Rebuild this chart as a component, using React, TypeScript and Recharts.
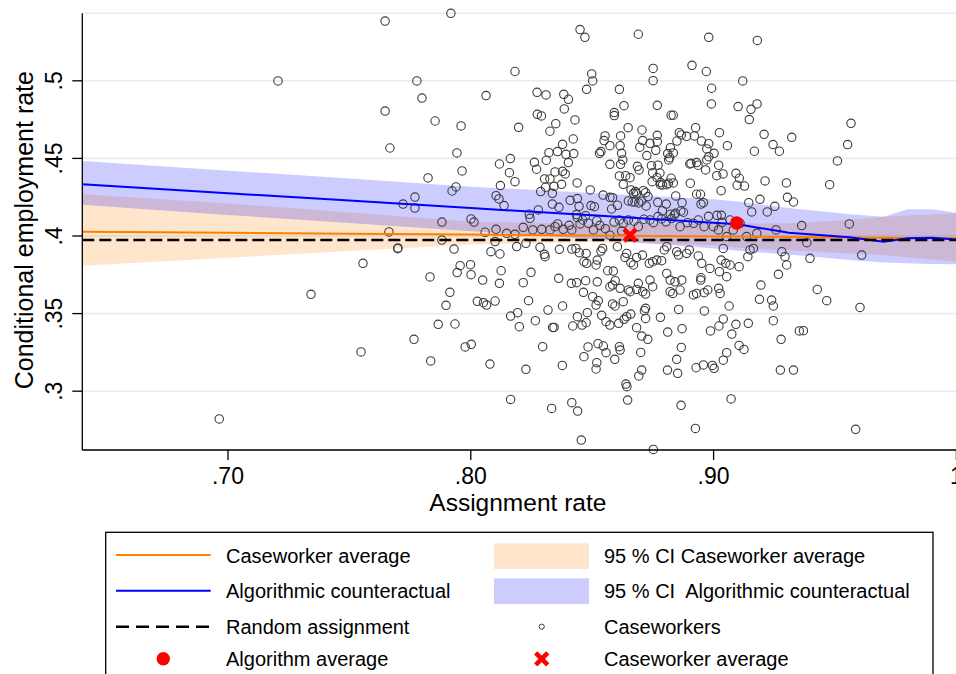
import React from "react";
import { ComposedChart, Area, Line, Scatter, XAxis, YAxis, CartesianGrid } from "recharts";

const FONT = "'Liberation Sans', Arial, Helvetica, sans-serif";

// Axis ticks
const xTicks = [0.7, 0.8, 0.9, 1.0];
const xTickLabels = [".70", ".80", ".90", "1"];
const yTicks = [0.3, 0.35, 0.4, 0.45, 0.5];
const yTickLabels = [".3", ".35", ".4", ".45", ".5"];
const xDomain = [0.64, 1.0];
const yDomain = [0.2621, 0.5435];

// Fitted curves (assignment rate grid)
const curveX = [0.64, 0.7, 0.75, 0.8, 0.85, 0.9, 0.91, 0.931, 0.956, 0.97, 0.98, 0.99, 1.0];
const caseworkerAvgLine = [0.4028, 0.4021, 0.4015, 0.4009, 0.4003, 0.3997, 0.3996, 0.3993, 0.399, 0.3989, 0.3987, 0.3986, 0.3985];
const algorithmicLine = [0.4333, 0.4276, 0.4228, 0.418, 0.4133, 0.4085, 0.4075, 0.4021, 0.3992, 0.3963, 0.3985, 0.3989, 0.3977];
const randomAssignment = [0.3975, 0.3975, 0.3975, 0.3975, 0.3975, 0.3975, 0.3975, 0.3975, 0.3975, 0.3975, 0.3975, 0.3975, 0.3975];
const caseworkerCILow = [0.3809, 0.386, 0.3903, 0.3945, 0.3962, 0.394, 0.3925, 0.3908, 0.3888, 0.3878, 0.3862, 0.3848, 0.3834];
const caseworkerCIHigh = [0.4269, 0.421, 0.4152, 0.4092, 0.4075, 0.4078, 0.408, 0.4082, 0.4103, 0.4124, 0.4132, 0.414, 0.4146];
const algorithmicCILow = [0.4201, 0.4136, 0.4083, 0.403, 0.398, 0.392, 0.3905, 0.388, 0.3845, 0.383, 0.3825, 0.382, 0.3818];
const algorithmicCIHigh = [0.4483, 0.4421, 0.437, 0.4318, 0.4277, 0.4236, 0.4222, 0.418, 0.414, 0.4124, 0.4172, 0.4172, 0.415];

// Single markers
const algorithmAverage = [{ x: 0.9095, y: 0.4084 }];
const caseworkerAverage = [{ x: 0.8656, y: 0.4006 }];

// Caseworkers: [assignment rate, conditional employment rate]
const caseworkers: [number, number][] = [
  [0.845, 0.533], [0.847, 0.528], [0.869, 0.53], [0.898, 0.528], [0.918, 0.526],
  [0.8182, 0.506], [0.8911, 0.51], [0.8751, 0.508], [0.897, 0.506], [0.8498, 0.5044], [0.8502, 0.4999], [0.8751, 0.5001], [0.912, 0.4999], [0.8992, 0.4952], [0.8477, 0.4945], [0.8612, 0.4945], [0.8063, 0.4905], [0.8273, 0.4926], [0.831, 0.4909], [0.8383, 0.4913], [0.8402, 0.4881], [0.8385, 0.4819], [0.8991, 0.4851], [0.8768, 0.4842], [0.9101, 0.4834], [0.9154, 0.4816], [0.9179, 0.4851], [0.8631, 0.484], [0.8591, 0.4795], [0.8591, 0.4776], [0.8274, 0.4784], [0.8291, 0.4774], [0.8825, 0.4778], [0.8834, 0.4778], [0.9147, 0.475], [0.9566, 0.4726], [0.8197, 0.47], [0.8429, 0.4748], [0.835, 0.4724], [0.8648, 0.4698], [0.8326, 0.4675], [0.8705, 0.4683], [0.8926, 0.4698], [0.9024, 0.4666], [0.8553, 0.4645], [0.8549, 0.4615], [0.8617, 0.4645], [0.8768, 0.4649], [0.8859, 0.4666], [0.8867, 0.4651], [0.8889, 0.4642], [0.8921, 0.4645], [0.9208, 0.4655], [0.9322, 0.4636], [0.8422, 0.4625], [0.8378, 0.4591], [0.8573, 0.4582], [0.8615, 0.4582], [0.8708, 0.4615], [0.8696, 0.4572], [0.8738, 0.4597], [0.8768, 0.4608], [0.8762, 0.4552], [0.8822, 0.4569], [0.8811, 0.4531], [0.8834, 0.4535], [0.8819, 0.4505], [0.8849, 0.4612], [0.895, 0.4612], [0.898, 0.4595], [0.8972, 0.4561], [0.9002, 0.4533], [0.9057, 0.4582], [0.9168, 0.4546], [0.9245, 0.4589], [0.9271, 0.4546], [0.9552, 0.4589], [0.8357, 0.4544], [0.8322, 0.4537], [0.8392, 0.4526], [0.8424, 0.4531], [0.853, 0.4533], [0.8536, 0.4544], [0.8621, 0.4533], [0.8626, 0.449], [0.8617, 0.4462], [0.8573, 0.4462], [0.8725, 0.4518], [0.8815, 0.449], [0.893, 0.4473], [0.8907, 0.4468], [0.8902, 0.4464], [0.8936, 0.4456], [0.8972, 0.449], [0.898, 0.4511], [0.8967, 0.4426], [0.9021, 0.4456], [0.951, 0.4484], [0.8118, 0.4464], [0.8163, 0.4499], [0.8262, 0.4475], [0.8271, 0.443], [0.8311, 0.4488], [0.8402, 0.4473], [0.8347, 0.4413], [0.8378, 0.4417], [0.8389, 0.44], [0.8159, 0.4408], [0.8182, 0.435], [0.8122, 0.4325], [0.8304, 0.4368], [0.8326, 0.4368], [0.8343, 0.432], [0.8374, 0.4333], [0.8308, 0.4314], [0.8288, 0.4286], [0.8438, 0.4342], [0.8492, 0.4297], [0.8612, 0.4387], [0.8628, 0.4333], [0.8638, 0.4389], [0.8656, 0.4376], [0.8686, 0.4449], [0.8693, 0.4426], [0.8749, 0.4408], [0.8744, 0.4453], [0.8771, 0.4456], [0.8779, 0.4406], [0.8767, 0.4376], [0.8781, 0.4331], [0.879, 0.4329], [0.8807, 0.4331], [0.8814, 0.434], [0.8834, 0.4342], [0.8747, 0.435], [0.8782, 0.4344], [0.8825, 0.4372], [0.8844, 0.4258], [0.8904, 0.434], [0.8946, 0.4269], [0.893, 0.4269], [0.9013, 0.4389], [0.9039, 0.44], [0.9092, 0.4404], [0.9106, 0.4372], [0.9097, 0.4327], [0.9127, 0.4322], [0.9212, 0.4355], [0.93, 0.4342], [0.9478, 0.4331], [0.9031, 0.4292], [0.9145, 0.4215], [0.9191, 0.4236], [0.9221, 0.4155], [0.9252, 0.4191], [0.9304, 0.4249], [0.9329, 0.4219], [0.9157, 0.4155], [0.8104, 0.426], [0.8116, 0.4239], [0.8137, 0.4196], [0.8241, 0.414], [0.8244, 0.4114], [0.8278, 0.4168], [0.8336, 0.4275], [0.8336, 0.4206], [0.8363, 0.4185], [0.8409, 0.423], [0.8439, 0.4241], [0.8446, 0.4191], [0.8435, 0.4138], [0.8473, 0.4131], [0.8495, 0.4196], [0.8509, 0.4189], [0.8545, 0.4264], [0.8573, 0.4249], [0.8584, 0.4247], [0.858, 0.4174], [0.8604, 0.4198], [0.8649, 0.4226], [0.8665, 0.4219], [0.8676, 0.4219], [0.8692, 0.4213], [0.8722, 0.4194], [0.8703, 0.4224], [0.8683, 0.4275], [0.866, 0.4297], [0.867, 0.4275], [0.8678, 0.4286], [0.8711, 0.4292], [0.872, 0.4279], [0.873, 0.4254], [0.877, 0.4217], [0.8805, 0.4206], [0.8789, 0.4163], [0.8822, 0.414], [0.8838, 0.4136], [0.8843, 0.4146], [0.8865, 0.4161], [0.8876, 0.4153], [0.887, 0.4215], [0.8958, 0.4215], [0.8948, 0.4206], [0.8979, 0.4127], [0.9014, 0.4133], [0.9032, 0.4133], [0.9035, 0.4088], [0.9068, 0.4103], [0.9363, 0.4067], [0.9559, 0.4078],
  [0.8059, 0.4024], [0.8104, 0.4043], [0.8148, 0.4017], [0.8182, 0.4011], [0.8216, 0.4056], [0.8255, 0.4039], [0.8292, 0.4043], [0.8326, 0.4039], [0.8347, 0.406], [0.8358, 0.4078], [0.8381, 0.4043], [0.8405, 0.4069], [0.8416, 0.4039], [0.845, 0.4078], [0.8439, 0.4118], [0.8461, 0.4103], [0.8484, 0.4082], [0.8505, 0.4039], [0.8519, 0.4099], [0.8532, 0.4069], [0.8554, 0.4047], [0.8573, 0.4005], [0.859, 0.409], [0.8612, 0.4103], [0.8628, 0.4082], [0.8621, 0.4032], [0.8649, 0.4103], [0.8672, 0.4095], [0.869, 0.406], [0.8713, 0.4108], [0.8738, 0.4103], [0.8752, 0.4086], [0.8771, 0.4125], [0.8786, 0.411], [0.8804, 0.4091], [0.8827, 0.4112], [0.8862, 0.406], [0.8892, 0.4086], [0.8917, 0.4082], [0.8937, 0.4103], [0.8961, 0.406], [0.8999, 0.406], [0.902, 0.4039], [0.9054, 0.3996], [0.9081, 0.4039], [0.9109, 0.4082], [0.9136, 0.3996], [0.9178, 0.4017], [0.9257, 0.4039], [0.81, 0.3964], [0.8189, 0.3932], [0.8227, 0.3953], [0.9384, 0.3957],
  [0.8083, 0.3899], [0.812, 0.3884], [0.8049, 0.3716], [0.8125, 0.3776], [0.8118, 0.3695], [0.8052, 0.357], [0.8065, 0.3555], [0.81, 0.3581], [0.8248, 0.3766], [0.8216, 0.3699], [0.8238, 0.3583], [0.8303, 0.3882], [0.8306, 0.3867], [0.8285, 0.3927], [0.8365, 0.3914], [0.8416, 0.3916], [0.8433, 0.392], [0.8447, 0.3892], [0.8475, 0.3888], [0.8466, 0.3834], [0.8477, 0.3824], [0.8516, 0.3813], [0.8521, 0.3845], [0.8536, 0.3903], [0.8543, 0.392], [0.8564, 0.3776], [0.8587, 0.3774], [0.8604, 0.3931], [0.8635, 0.3862], [0.8642, 0.3888], [0.8659, 0.3828], [0.867, 0.3813], [0.8683, 0.3862], [0.8707, 0.3877], [0.8735, 0.3824], [0.8749, 0.3834], [0.8766, 0.3845], [0.8786, 0.3841], [0.8797, 0.391], [0.8807, 0.3931], [0.8848, 0.3899], [0.8855, 0.3877], [0.8889, 0.3888], [0.89, 0.391], [0.8937, 0.3871], [0.8951, 0.3824], [0.8985, 0.3791], [0.9024, 0.377], [0.9031, 0.3845], [0.905, 0.3824], [0.9068, 0.3813], [0.9105, 0.3802], [0.904, 0.392], [0.9141, 0.3867], [0.915, 0.391], [0.9164, 0.392], [0.9281, 0.3899], [0.9294, 0.3867], [0.9301, 0.3813], [0.9397, 0.3856], [0.961, 0.3877], [0.8362, 0.3727], [0.8414, 0.3695], [0.8436, 0.3699], [0.8473, 0.3712], [0.8464, 0.3637], [0.8502, 0.3609], [0.8521, 0.3705], [0.8525, 0.3583], [0.8516, 0.3555], [0.8539, 0.3489], [0.8584, 0.3562], [0.8594, 0.3549], [0.8573, 0.3673], [0.8584, 0.3684], [0.8595, 0.3712], [0.8615, 0.3663], [0.8628, 0.3577], [0.8649, 0.3652], [0.8656, 0.3641], [0.8683, 0.3656], [0.8708, 0.3641], [0.872, 0.3626], [0.869, 0.3695], [0.8738, 0.3716], [0.8749, 0.3673], [0.8807, 0.3759], [0.8821, 0.3716], [0.8841, 0.3705], [0.8869, 0.3716], [0.8862, 0.3652], [0.8821, 0.3641], [0.8832, 0.363], [0.8917, 0.362], [0.893, 0.363], [0.8947, 0.3716], [0.8961, 0.3635], [0.8976, 0.3652], [0.8948, 0.3731], [0.9021, 0.3663], [0.9027, 0.363], [0.9054, 0.3738], [0.9064, 0.3549], [0.9195, 0.3684], [0.9189, 0.3592], [0.9239, 0.3587], [0.9246, 0.3549], [0.9267, 0.3753], [0.9427, 0.3656], [0.9466, 0.3583], [0.9603, 0.354], [0.8164, 0.3484], [0.8193, 0.3506], [0.82, 0.3416], [0.8266, 0.3454], [0.8318, 0.3523], [0.8378, 0.3549], [0.8337, 0.3411], [0.8343, 0.3411], [0.842, 0.342], [0.8439, 0.348], [0.8458, 0.3426], [0.8475, 0.3441], [0.848, 0.3506], [0.8557, 0.3448], [0.8573, 0.3426], [0.8609, 0.3437], [0.8631, 0.3463], [0.8642, 0.348], [0.8659, 0.3497], [0.8683, 0.3409], [0.8704, 0.3355], [0.872, 0.3534], [0.8715, 0.3519], [0.872, 0.3469], [0.8729, 0.3334], [0.8781, 0.3476], [0.8811, 0.3381], [0.8856, 0.3527], [0.887, 0.3403], [0.8962, 0.3517], [0.8987, 0.3388], [0.9022, 0.342], [0.904, 0.3465], [0.9075, 0.3368], [0.9092, 0.3431], [0.9143, 0.3437], [0.9246, 0.3454], [0.9278, 0.3334], [0.9353, 0.3388], [0.937, 0.339], [0.8296, 0.3287], [0.8483, 0.3285], [0.8524, 0.3306], [0.8546, 0.3291], [0.8557, 0.3248], [0.8612, 0.3287], [0.8615, 0.3265], [0.8593, 0.3205], [0.87, 0.325], [0.8466, 0.3222], [0.8519, 0.3184], [0.8516, 0.3143], [0.8848, 0.3205], [0.8867, 0.3282], [0.904, 0.32], [0.9054, 0.3248], [0.9105, 0.3295], [0.9125, 0.3269], [0.8079, 0.3175], [0.8227, 0.3141], [0.8377, 0.3166], [0.8704, 0.3136], [0.8692, 0.3098], [0.8639, 0.3046], [0.8643, 0.3029], [0.881, 0.3136], [0.8852, 0.3115], [0.8928, 0.3151], [0.8958, 0.3169], [0.8995, 0.3166], [0.9002, 0.3147], [0.9275, 0.3136], [0.9329, 0.3136], [0.8164, 0.2947], [0.8333, 0.2889], [0.8416, 0.2926], [0.844, 0.2872], [0.8646, 0.2943], [0.8866, 0.2909], [0.9072, 0.295], [0.8455, 0.2685], [0.8752, 0.2625], [0.8925, 0.276], [0.9585, 0.2754],
  [0.7647, 0.5385], [0.7918, 0.5435], [0.7206, 0.4999], [0.7778, 0.4999], [0.7799, 0.4889], [0.7647, 0.4805], [0.7853, 0.4741], [0.796, 0.4709], [0.7667, 0.4567], [0.7943, 0.4535], [0.7824, 0.4374], [0.7964, 0.4419], [0.7939, 0.4316], [0.7923, 0.429], [0.777, 0.4251], [0.7721, 0.4206], [0.777, 0.418], [0.8001, 0.411], [0.8013, 0.409], [0.7881, 0.409], [0.7663, 0.4026], [0.7881, 0.3974], [0.77, 0.3923], [0.7931, 0.3916], [0.6964, 0.2821], [0.7342, 0.3624], [0.7548, 0.3253], [0.7556, 0.3824], [0.7699, 0.3918], [0.7766, 0.3334], [0.7832, 0.3736], [0.7835, 0.3195], [0.7866, 0.3431], [0.7898, 0.3553], [0.7914, 0.3637], [0.7935, 0.3433], [0.7944, 0.3764], [0.7956, 0.3809], [0.7977, 0.3285], [0.7999, 0.3815], [0.8001, 0.3751], [0.8002, 0.3302], [0.8027, 0.3579],
];

const ORANGE = "#FF7F00";
const BLUE = "#0000FF";
const RED = "#FF0000";
const CIRCLE_STROKE = "#3c3c3c";

const curveTable = curveX.map((x, i) => ({
  x,
  cwLine: caseworkerAvgLine[i],
  algoLine: algorithmicLine[i],
  random: randomAssignment[i],
  cwCI: [caseworkerCILow[i], caseworkerCIHigh[i]],
  algoCI: [algorithmicCILow[i], algorithmicCIHigh[i]],
}));

const caseworkerPoints = caseworkers.map(([x, y]) => ({ x, y }));

const labelFor = (ticks: number[], labels: string[], v: number) => {
  const i = ticks.findIndex((t) => Math.abs(t - v) < 1e-9);
  return i >= 0 ? labels[i] : String(v);
};

const XTick = (props: any) => {
  const { x, y, payload } = props;
  return (
    <text x={x} y={y + 21.5} textAnchor="middle" fontSize={23} fontFamily={FONT} fill="#000">
      {labelFor(xTicks, xTickLabels, payload.value)}
    </text>
  );
};

const YTick = (props: any) => {
  const { x, y, payload } = props;
  const bx = x - 8.3;
  return (
    <text x={bx} y={y} transform={`rotate(-90 ${bx} ${y})`} textAnchor="middle" fontSize={23} fontFamily={FONT} fill="#000">
      {labelFor(yTicks, yTickLabels, payload.value)}
    </text>
  );
};

const YTitle = (props: any) => {
  const vb = props.viewBox || { x: 0, y: 13.3, width: 82.3, height: 436.7 };
  const tx = vb.x + 33.3;
  const ty = vb.y + vb.height / 2 - 1.5;
  return (
    <text x={tx} y={ty} transform={`rotate(-90 ${tx} ${ty})`} textAnchor="middle" fontSize={25} fontFamily={FONT} fill="#000">
      Conditional employment rate
    </text>
  );
};

const XTitle = (props: any) => {
  const vb = props.viewBox || { x: 82.3, y: 450, width: 874, height: 60 };
  return (
    <text x={vb.x + vb.width / 2 - 1.5} y={vb.y + 60.8} textAnchor="middle" fontSize={24.5} fontFamily={FONT} fill="#000">
      Assignment rate
    </text>
  );
};

const HollowCircle = (props: any) => (
  <circle cx={props.cx} cy={props.cy} r={4.2} fill="none" stroke={CIRCLE_STROKE} strokeWidth={1.1} />
);

const RedDot = (props: any) => <circle cx={props.cx} cy={props.cy} r={6.7} fill={RED} />;

const RedCross = (props: any) => {
  const { cx, cy } = props;
  const s = 6;
  return (
    <g>
      <line x1={cx - s} y1={cy - s} x2={cx + s} y2={cy + s} stroke={RED} strokeWidth={4.6} />
      <line x1={cx - s} y1={cy + s} x2={cx + s} y2={cy - s} stroke={RED} strokeWidth={4.6} />
    </g>
  );
};

const Legend = () => {
  const leftLineX1 = 116;
  const leftLineX2 = 210.7;
  const leftText = 226;
  const rightMarker = 541.7;
  const rightText = 604;
  const rows = [555, 590.7, 626.7, 658.8];
  const textStyle = { fontSize: 20, fontFamily: FONT, fill: "#000", whiteSpace: "pre" as const };
  return (
    <svg width={956} height={674} style={{ position: "absolute", left: 0, top: 0, pointerEvents: "none" }}>
      <rect x={105.7} y={532.3} width={827.3} height={200} fill="#fff" stroke="#000" strokeWidth={1.3} />
      {/* row 1 */}
      <line x1={leftLineX1} x2={leftLineX2} y1={rows[0]} y2={rows[0]} stroke={ORANGE} strokeWidth={2} />
      <text x={leftText} y={rows[0] + 7.5} style={textStyle}>Caseworker average</text>
      <rect x={494} y={543.3} width={95} height={25.7} fill={ORANGE} fillOpacity={0.2} />
      <text x={rightText} y={rows[0] + 7.5} style={textStyle}>95 % CI Caseworker average</text>
      {/* row 2 */}
      <line x1={leftLineX1} x2={leftLineX2} y1={rows[1]} y2={rows[1]} stroke={BLUE} strokeWidth={2} />
      <text x={leftText} y={rows[1] + 7.5} style={textStyle}>Algorithmic counteractual</text>
      <rect x={494} y={578.3} width={95} height={25.7} fill={BLUE} fillOpacity={0.2} />
      <text x={rightText} y={rows[1] + 7.5} style={textStyle}>{"95 % CI  Algorithmic counteractual"}</text>
      {/* row 3 */}
      <line x1={leftLineX1} x2={leftLineX2} y1={rows[2]} y2={rows[2]} stroke="#000" strokeWidth={2.4} strokeDasharray="13 7" />
      <text x={leftText} y={rows[2] + 7.5} style={textStyle}>Random assignment</text>
      <circle cx={rightMarker} cy={rows[2]} r={2.6} fill="none" stroke={CIRCLE_STROKE} strokeWidth={1} />
      <text x={rightText} y={rows[2] + 7.5} style={textStyle}>Caseworkers</text>
      {/* row 4 */}
      <circle cx={163.3} cy={rows[3]} r={6.7} fill={RED} />
      <text x={leftText} y={rows[3] + 7.5} style={textStyle}>Algorithm average</text>
      <RedCross cx={rightMarker} cy={rows[3]} />
      <text x={rightText} y={rows[3] + 7.5} style={textStyle}>Caseworker average</text>
    </svg>
  );
};

export default function App() {
  return (
    <div style={{ position: "relative", width: 956, height: 674, overflow: "hidden", background: "#fff" }}>
      <style>{"body{margin:0;overflow:hidden;background:#fff}"}</style>
      <ComposedChart
        width={980}
        height={700}
        data={curveTable}
        margin={{ top: 13.3, right: 23.6, bottom: 190, left: 0 }}
      >
        <CartesianGrid horizontal vertical={false} stroke="#e3edf0" strokeWidth={1.6} />
        <XAxis
          dataKey="x"
          type="number"
          domain={xDomain}
          ticks={xTicks}
          interval={0}
          height={60}
          tickSize={10}
          axisLine={{ stroke: "#000", strokeWidth: 1.3 }}
          tickLine={{ stroke: "#000", strokeWidth: 1.3 }}
          tick={XTick}
          label={XTitle}
        />
        <YAxis
          type="number"
          domain={yDomain}
          ticks={yTicks}
          interval={0}
          width={82.3}
          tickSize={10}
          axisLine={{ stroke: "#000", strokeWidth: 1.3 }}
          tickLine={{ stroke: "#000", strokeWidth: 1.3 }}
          tick={YTick}
          label={YTitle}
        />
        <Area
          type="linear"
          dataKey="cwCI"
          stroke="none"
          fill={ORANGE}
          fillOpacity={0.2}
          isAnimationActive={false}
          activeDot={false}
          zIndex={100}
        />
        <Area
          type="linear"
          dataKey="algoCI"
          stroke="none"
          fill={BLUE}
          fillOpacity={0.2}
          isAnimationActive={false}
          activeDot={false}
          zIndex={101}
        />
        <Scatter
          data={caseworkerPoints}
          dataKey="y"
          shape={HollowCircle}
          isAnimationActive={false}
          zIndex={350}
        />
        <Line
          type="linear"
          dataKey="cwLine"
          stroke={ORANGE}
          strokeWidth={2}
          dot={false}
          activeDot={false}
          isAnimationActive={false}
          zIndex={400}
        />
        <Line
          type="linear"
          dataKey="algoLine"
          stroke={BLUE}
          strokeWidth={2}
          dot={false}
          activeDot={false}
          isAnimationActive={false}
          zIndex={401}
        />
        <Line
          type="linear"
          dataKey="random"
          stroke="#000"
          strokeWidth={2.5}
          strokeDasharray="12 5"
          dot={false}
          activeDot={false}
          isAnimationActive={false}
          zIndex={402}
        />
        <Scatter data={algorithmAverage} dataKey="y" shape={RedDot} isAnimationActive={false} zIndex={700} />
        <Scatter data={caseworkerAverage} dataKey="y" shape={RedCross} isAnimationActive={false} zIndex={701} />
      </ComposedChart>
      <Legend />
    </div>
  );
}
